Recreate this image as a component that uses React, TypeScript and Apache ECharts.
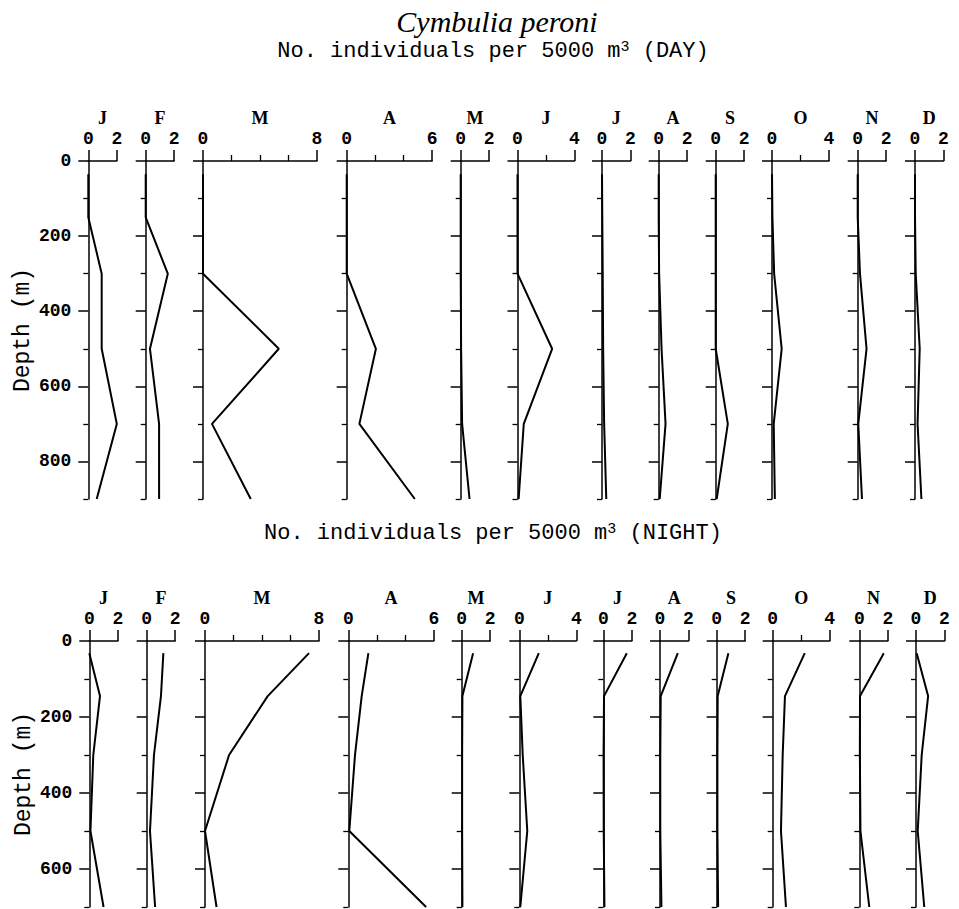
import React, { useEffect, useRef } from "react";
import * as echarts from "echarts";

// ---------- data ----------
const MONTHS = ["J", "F", "M", "A", "M", "J", "J", "A", "S", "O", "N", "D"];
const AXIS_MAX = [2, 2, 8, 6, 2, 4, 2, 2, 2, 4, 2, 2];

const DAY_DEPTHS = [35, 150, 300, 500, 700, 900];
const NIGHT_DEPTHS = [32, 145, 300, 500, 700];

const DAY_JAN = [0, 0, 0.94, 0.94, 2.0, 0.59];
const DAY_FEB = [0, 0, 1.55, 0.3, 0.94, 0.94];
const DAY_MAR = [0, 0, 0, 5.32, 0.63, 3.35];
const DAY_APR = [0, 0, 0, 2.05, 0.89, 4.78];
const DAY_MAY = [0, 0, 0, 0.03, 0.1, 0.62];
const DAY_JUN = [0, 0, 0, 2.43, 0.44, 0.08];
const DAY_JUL = [0, 0.02, 0.05, 0.08, 0.15, 0.3];
const DAY_AUG = [0, 0, 0.03, 0.2, 0.48, 0.07];
const DAY_SEP = [0, 0, 0, 0, 0.85, 0.07];
const DAY_OCT = [0, 0.03, 0.15, 0.68, 0.12, 0.2];
const DAY_NOV = [0, 0, 0.16, 0.62, 0.04, 0.3];
const DAY_DEC = [0, 0, 0.05, 0.33, 0.18, 0.45];

const NIGHT_JAN = [0, 0.75, 0.28, 0.08, 1.0];
const NIGHT_FEB = [1.17, 1.0, 0.51, 0.23, 0.59];
const NIGHT_MAR = [7.3, 4.4, 1.69, 0, 0.81];
const NIGHT_APR = [1.41, 0.94, 0.47, 0.07, 5.46];
const NIGHT_MAY = [0.8, 0.05, 0.03, 0.03, 0.05];
const NIGHT_JUN = [1.37, 0.07, 0.24, 0.56, 0.07];
const NIGHT_JUL = [1.65, 0.05, 0.02, 0.03, 0.08];
const NIGHT_AUG = [1.25, 0.05, 0.02, 0.02, 0.1];
const NIGHT_SEP = [0.82, 0.07, 0.05, 0.05, 0.1];
const NIGHT_OCT = [2.25, 0.86, 0.7, 0.58, 0.93];
const NIGHT_NOV = [1.72, 0.05, 0.04, 0.08, 0.7];
const NIGHT_DEC = [0.05, 0.85, 0.4, 0.12, 0.58];

const DAY_VALUES = [DAY_JAN, DAY_FEB, DAY_MAR, DAY_APR, DAY_MAY, DAY_JUN, DAY_JUL, DAY_AUG, DAY_SEP, DAY_OCT, DAY_NOV, DAY_DEC];
const NIGHT_VALUES = [NIGHT_JAN, NIGHT_FEB, NIGHT_MAR, NIGHT_APR, NIGHT_MAY, NIGHT_JUN, NIGHT_JUL, NIGHT_AUG, NIGHT_SEP, NIGHT_OCT, NIGHT_NOV, NIGHT_DEC];

const DAY_LABEL_TICKS = [0, 200, 400, 600, 800];
const DAY_MINOR_TICKS = [100, 300, 500, 700, 900];
const NIGHT_LABEL_TICKS = [0, 200, 400, 600];
const NIGHT_MINOR_TICKS = [100, 300, 500, 700];

// ---------- layout ----------
const UNIT = 14.25;
const DAY_LEFT = [88.3, 145.7, 203, 346.7, 460.7, 517.5, 602, 658.7, 715.7, 772, 857.7, 915];
const NIGHT_LEFT = [89.3, 146.7, 205, 348.3, 461.7, 519.3, 603.3, 660, 716.7, 772.7, 859.3, 916];

const MONO = "'Liberation Mono', 'DejaVu Sans Mono', monospace";
const SERIF = "'Liberation Serif', 'DejaVu Serif', serif";

type Panel = {
  top: number;
  height: number;
  maxDepth: number;
  lefts: number[];
  values: number[][];
  depths: number[];
  labelTicks: number[];
  minorTicks: number[];
};

const PANELS: Panel[] = [
  { top: 161, height: 338, maxDepth: 900, lefts: DAY_LEFT, values: DAY_VALUES, depths: DAY_DEPTHS, labelTicks: DAY_LABEL_TICKS, minorTicks: DAY_MINOR_TICKS },
  { top: 641, height: 266, maxDepth: 700, lefts: NIGHT_LEFT, values: NIGHT_VALUES, depths: NIGHT_DEPTHS, labelTicks: NIGHT_LABEL_TICKS, minorTicks: NIGHT_MINOR_TICKS },
];

function buildOption() {
  const grid: any[] = [];
  const xAxis: any[] = [];
  const yAxis: any[] = [];
  const series: any[] = [];

  PANELS.forEach((p) => {
    MONTHS.forEach((m, i) => {
      const gi = grid.length;
      const max = AXIS_MAX[i];
      grid.push({ left: p.lefts[i], top: p.top, width: max * UNIT, height: p.height, containLabel: false });
      xAxis.push({
        gridIndex: gi,
        type: "value",
        position: "top",
        min: 0,
        max,
        interval: max,
        axisLine: { show: true, onZero: false, lineStyle: { color: "#000", width: 1.5 } },
        axisTick: { show: true, inside: false, length: 11, lineStyle: { color: "#000", width: 1.5 } },
        minorTick: { show: max > 2, splitNumber: max / 2, length: 6, lineStyle: { color: "#000", width: 1.3 } },
        axisLabel: { show: true, margin: 13, color: "#000", fontFamily: MONO, fontSize: 18, fontWeight: "bold" },
        splitLine: { show: false },
        minorSplitLine: { show: false },
        name: m,
        nameLocation: "middle",
        nameGap: 34,
        nameTextStyle: { fontFamily: SERIF, fontWeight: "bold", fontSize: 18, color: "#000" },
      });
      const first = i === 0;
      yAxis.push({
        gridIndex: gi,
        type: "value",
        inverse: true,
        position: "left",
        offset: 0,
        min: 0,
        max: p.maxDepth,
        axisLine: { show: true, onZero: false, lineStyle: { color: "#000", width: 1.5 } },
        axisTick: { show: true, customValues: p.labelTicks, length: 10, lineStyle: { color: "#000", width: 1.5 } },
        axisLabel: {
          show: first,
          customValues: p.labelTicks,
          margin: 17,
          color: "#000",
          fontFamily: MONO,
          fontSize: 18,
          fontWeight: "bold",
        },
        splitLine: { show: false },
        name: first ? "Depth (m)" : "",
        nameLocation: "middle",
        nameRotate: 90,
        nameGap: 53,
        nameTextStyle: { fontFamily: MONO, fontSize: 23, color: "#000" },
      });
      yAxis.push({
        gridIndex: gi,
        type: "value",
        inverse: true,
        position: "left",
        offset: 0,
        min: 0,
        max: p.maxDepth,
        axisLine: { show: false },
        axisTick: { show: true, customValues: p.minorTicks, length: 5, lineStyle: { color: "#000", width: 1.3 } },
        axisLabel: { show: false },
        splitLine: { show: false },
      });
      series.push({
        type: "line",
        xAxisIndex: gi,
        yAxisIndex: 2 * gi,
        data: p.depths.map((d, k) => [p.values[i][k], d]),
        symbol: "none",
        clip: false,
        silent: true,
        lineStyle: { color: "#000", width: 2 },
        z: 3,
      });
    });
  });

  const subStyle = (label: string) => ({
    text: `No. individuals per 5000 m{sup|3} (${label})`,
    fontFamily: MONO,
    fontSize: 22,
    fill: "#000",
    align: "center",
    verticalAlign: "middle",
    rich: { sup: { fontFamily: MONO, fontSize: 15, verticalAlign: "top", fill: "#000" } },
  });

  return {
    animation: false,
    backgroundColor: "#fff",
    grid,
    xAxis,
    yAxis,
    series,
    graphic: [
      {
        type: "text",
        x: 497,
        y: 21,
        style: {
          text: "Cymbulia peroni",
          fontFamily: SERIF,
          fontStyle: "italic",
          fontSize: 30,
          fill: "#000",
          align: "center",
          verticalAlign: "middle",
        },
      },
      { type: "text", x: 493, y: 51, style: subStyle("DAY") },
      { type: "text", x: 493, y: 533, style: subStyle("NIGHT") },
    ],
  };
}

export default function App() {
  const ref = useRef<HTMLDivElement>(null);
  useEffect(() => {
    if (!ref.current) return;
    const chart = echarts.init(ref.current, undefined, { renderer: "svg" });
    chart.setOption(buildOption() as any);
    return () => chart.dispose();
  }, []);
  return (
    <div
      ref={ref}
      style={{ position: "absolute", left: 0, top: 0, width: 959, height: 909, background: "#fff" }}
    />
  );
}
